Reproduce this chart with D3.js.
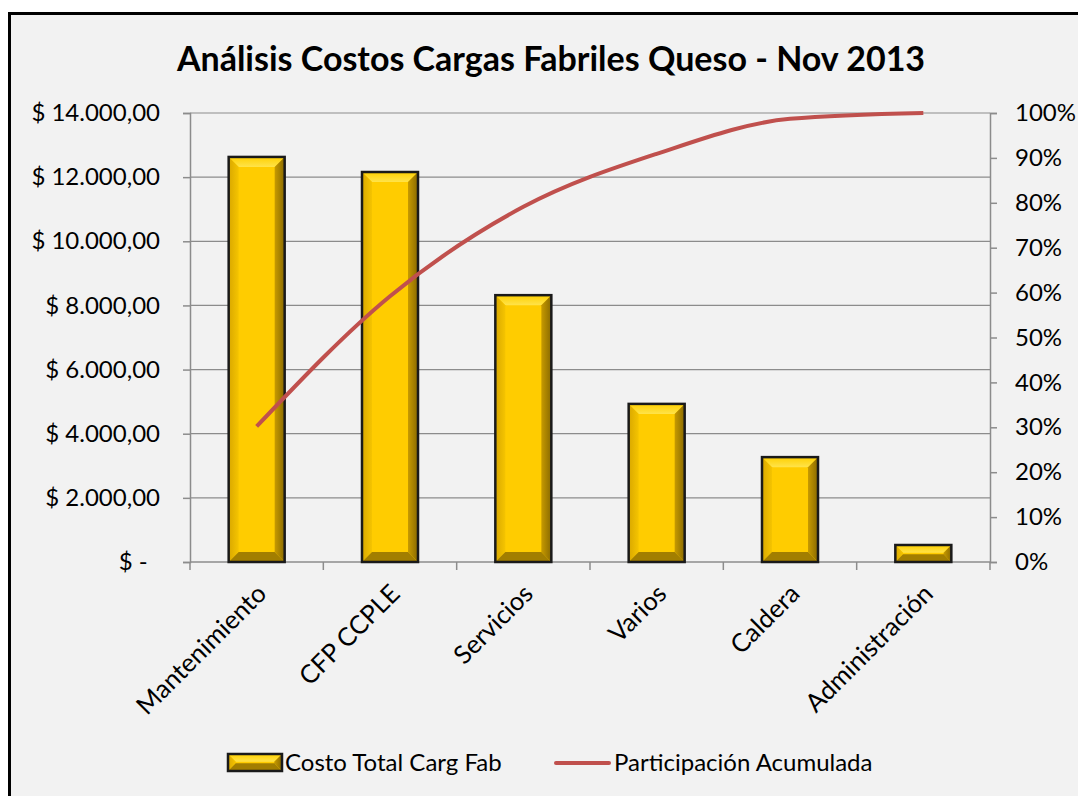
<!DOCTYPE html>
<html>
<head>
<meta charset="utf-8">
<script src="https://cdn.jsdelivr.net/npm/d3@7"></script>
<style>
  body { margin: 0; background: #fff; }
  svg text { font-family: Lato, "Open Sans", sans-serif; fill: #000; }
</style>
</head>
<body>
<div id="chart"></div>
<script>
const w = 1078;
const h = 796;

// Data
const categories = ['Mantenimiento', 'CFP CCPLE', 'Servicios', 'Varios', 'Caldera', 'Administración'];
const costs = [12630, 12160, 8320, 4930, 3270, 530];
const cumulative = [0.302, 0.592, 0.791, 0.909, 0.987, 1.0];
const leftTicks = [0, 2000, 4000, 6000, 8000, 10000, 12000, 14000];
const rightTicks = [0, 0.1, 0.2, 0.3, 0.4, 0.5, 0.6, 0.7, 0.8, 0.9, 1.0];

const plot = {left: 190, right: 990, top: 113, bottom: 562};
const fs = '24px';

const svg = d3.select('#chart')
  .append('svg')
  .attr('width', w)
  .attr('height', h);

// chart background + border
svg.append('rect')
  .attr('x', 9.5).attr('y', 13.5)
  .attr('width', w + 20).attr('height', h + 20)
  .attr('fill', '#f2f2f2')
  .attr('stroke', '#000')
  .attr('stroke-width', 3);

// Title
svg.append('text')
  .attr('x', 551).attr('y', 71)
  .attr('text-anchor', 'middle')
  .style('font-size', '34px')
  .style('font-weight', 'bold')
  .text('Análisis Costos Cargas Fabriles Queso - Nov 2013');

const x = d3.scaleBand()
  .domain(categories)
  .range([plot.left, plot.right])
  .paddingInner(0.58)
  .paddingOuter(0.29);

const y = d3.scaleLinear().domain([0, 14000]).range([plot.bottom, plot.top]);
const y2 = d3.scaleLinear().domain([0, 1]).range([plot.bottom, plot.top]);

// gridlines
svg.append('g')
  .selectAll('line')
  .data(leftTicks.slice(1))
  .enter().append('line')
  .attr('x1', plot.left).attr('x2', plot.right)
  .attr('y1', d => y(d)).attr('y2', d => y(d))
  .attr('stroke', '#8c8c8c')
  .attr('stroke-width', 1.2);

// left axis
const fmt = d => d === 0 ? '$ -  ' : '$ ' + d3.format(',.2f')(d).replace(/,/g, 'X').replace(/\./g, ',').replace(/X/g, '.');
const leftAxis = svg.append('g')
  .attr('transform', `translate(${plot.left},0)`)
  .call(d3.axisLeft(y).tickValues(leftTicks).tickSize(7).tickPadding(23).tickFormat(fmt));
leftAxis.selectAll('text').style('font-size', fs).style('white-space', 'pre');

// right axis
const rightAxis = svg.append('g')
  .attr('transform', `translate(${plot.right},0)`)
  .call(d3.axisRight(y2).tickValues(rightTicks).tickSize(7).tickPadding(18).tickFormat(d3.format('.0%')));
rightAxis.selectAll('text').style('font-size', fs);

svg.selectAll('.domain, .tick line').attr('stroke', '#8c8c8c').attr('stroke-width', 1.5);

// bottom axis
svg.append('line')
  .attr('x1', plot.left).attr('x2', plot.right)
  .attr('y1', plot.bottom).attr('y2', plot.bottom)
  .attr('stroke', '#8c8c8c').attr('stroke-width', 1.5);
const step = x.step();
svg.append('g')
  .selectAll('line')
  .data(d3.range(categories.length + 1))
  .enter().append('line')
  .attr('x1', i => plot.left + i * step).attr('x2', i => plot.left + i * step)
  .attr('y1', plot.bottom).attr('y2', plot.bottom + 8)
  .attr('stroke', '#8c8c8c').attr('stroke-width', 1.5);

svg.append('g')
  .selectAll('text')
  .data(categories)
  .enter().append('text')
  .attr('transform', d => `translate(${x(d) + x.bandwidth() / 2 + 5},${plot.bottom + 27}) rotate(-45)`)
  .attr('text-anchor', 'end')
  .attr('dy', '0.35em')
  .style('font-size', '25.5px')
  .text(d => d);

// bevelled bar
function bevelBar(g, x0, y0, bw, bh) {
  const b = Math.min(10, bh / 2.2);
  const x1 = x0 + bw, y1 = y0 + bh;
  g.append('rect').attr('x', x0).attr('y', y0).attr('width', bw).attr('height', bh).attr('fill', '#ffcc00');
  g.append('polygon').attr('points', [[x0, y0], [x1, y0], [x1 - b, y0 + b], [x0 + b, y0 + b]].join(' ')).attr('fill', 'url(#topGrad)');
  g.append('polygon').attr('points', [[x0, y0], [x0 + b, y0 + b], [x0 + b, y1 - b], [x0, y1]].join(' ')).attr('fill', 'url(#leftGrad)');
  g.append('polygon').attr('points', [[x1, y0], [x1 - b, y0 + b], [x1 - b, y1 - b], [x1, y1]].join(' ')).attr('fill', 'url(#rightGrad)');
  g.append('polygon').attr('points', [[x0, y1], [x0 + b, y1 - b], [x1 - b, y1 - b], [x1, y1]].join(' ')).attr('fill', '#a27e00');
  g.append('rect').attr('x', x0).attr('y', y0).attr('width', bw).attr('height', bh)
    .attr('fill', 'none').attr('stroke', '#1a1a1a').attr('stroke-width', 2.5);
}

const defs = svg.append('defs');
const grad = (id, x2, y2, stops) => {
  const lg = defs.append('linearGradient').attr('id', id)
    .attr('x1', 0).attr('y1', 0).attr('x2', x2).attr('y2', y2);
  stops.forEach(s => lg.append('stop').attr('offset', s[0]).attr('stop-color', s[1]));
};
grad('topGrad', 0, 1, [[0, '#ffd000'], [1, '#ffe34a']]);
grad('leftGrad', 1, 0, [[0, '#d9a800'], [1, '#f5c400']]);
grad('rightGrad', 1, 0, [[0, '#c79a00'], [1, '#8a6a00']]);

const bars = svg.append('g');
categories.forEach((c, i) => {
  bevelBar(bars.append('g'), x(c), y(costs[i]), x.bandwidth(), plot.bottom - y(costs[i]));
});

// cumulative line
const line = d3.line()
  .x((d, i) => x(categories[i]) + x.bandwidth() / 2)
  .y(d => y2(d))
  .curve(d3.curveMonotoneX);
svg.append('path')
  .datum(cumulative)
  .attr('d', line)
  .attr('fill', 'none')
  .attr('stroke', '#c0504d')
  .attr('stroke-width', 4);

// legend
const legend = svg.append('g').attr('id', 'legend');
bevelBar(legend.append('g'), 228, 754, 54, 17);
legend.append('text').attr('x', 285).attr('y', 771).style('font-size', fs).text('Costo Total Carg Fab');
legend.append('line').attr('x1', 556).attr('x2', 609).attr('y1', 763).attr('y2', 763)
  .attr('stroke', '#c0504d').attr('stroke-width', 4).attr('stroke-linecap', 'round');
legend.append('text').attr('x', 614).attr('y', 771).style('font-size', fs).text('Participación Acumulada');
</script>
</body>
</html>
